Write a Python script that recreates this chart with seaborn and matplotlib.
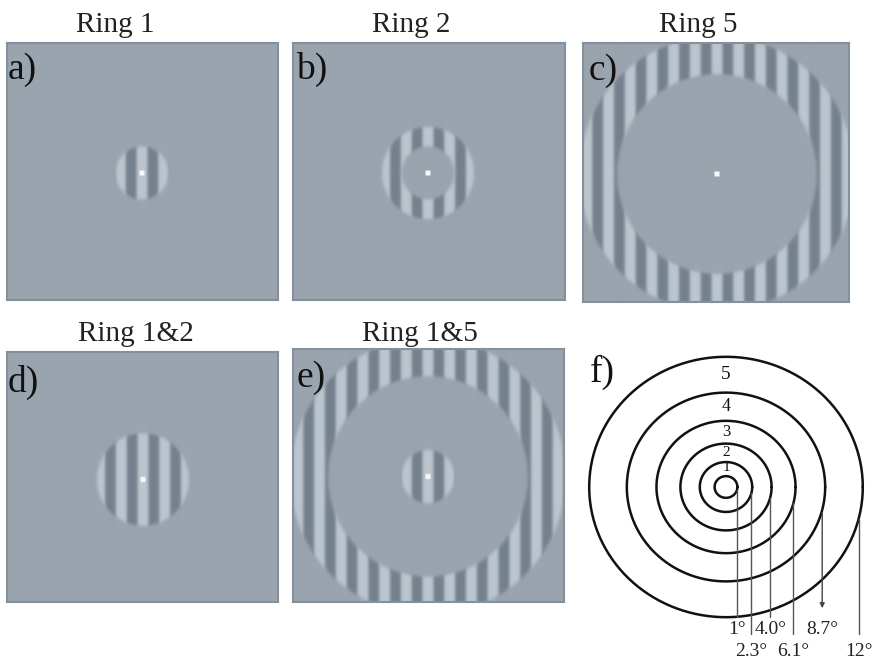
import numpy as np
import pandas as pd
import matplotlib
matplotlib.use("Agg")
import matplotlib.pyplot as plt
import seaborn as sns

# ---------------- data ----------------
ring_edges_deg = [1, 2.3, 4.0, 6.1, 8.7, 12]          # eccentricity boundaries (f)
edge_labels = ["1°", "2.3°", "4.0°", "6.1°", "8.7°", "12°"]
edge_label_row = [0, 1, 0, 1, 0, 1]                    # which text row each label sits in
ring_names = ["1", "2", "3", "4", "5"]
ring_inner_deg = {1: 0.0, 2: 2.3, 5: 8.7}
ring_outer_deg = {1: 2.3, 2: 4.0, 5: 12.0}
panel_letters = ["a)", "b)", "c)", "d)", "e)"]
panel_titles = ["Ring 1", "Ring 2", "Ring 5", "Ring 1&2", "Ring 1&5"]
panel_rings = [[1], [2], [5], [1, 2], [1, 5]]
grating_period_deg = 1.89

# ---------------- style ----------------
sns.set_theme(style="white")
plt.rcParams["font.family"] = ["Liberation Serif", "DejaVu Serif"]

W, H = 873, 670
fig = plt.figure(figsize=(W / 100, H / 100), dpi=100)
fig.patch.set_facecolor("white")

PX_PER_DEG = 11.5
# box extents (x0, x1, y0, y1) and centre in pixels
boxes = [(7, 278, 43, 300, 142, 173),
         (293, 565, 43, 300, 428, 173),
         (583, 849, 43, 302, 717, 174),
         (7, 278, 352, 602, 143, 480),
         (293, 564, 349, 602, 428, 477)]
title_pos = [(115, 32), (411, 32), (698, 32), (136, 341), (420, 341)]
letter_pos = [(8, 79), (296, 79), (589, 80), (8, 392), (297, 387)]

bg = np.array([154, 164, 174]) / 255
light = np.array([188, 198, 207]) / 255
dark = np.array([116, 129, 141]) / 255


def smoothstep(d, w=0.08):
    return 1 / (1 + np.exp(-np.clip(d / w, -60, 60)))


def merged_intervals(rings):
    iv = sorted((ring_inner_deg[r], ring_outer_deg[r]) for r in rings)
    out = [list(iv[0])]
    for a, b in iv[1:]:
        if a <= out[-1][1] + 1e-9:
            out[-1][1] = max(out[-1][1], b)
        else:
            out.append([a, b])
    return out


for i, (x0, x1, y0, y1, cx, cy) in enumerate(boxes):
    ax = fig.add_axes([x0 / W, 1 - y1 / H, (x1 - x0) / W, (y1 - y0) / H])
    xl = ((x0 - cx) / PX_PER_DEG, (x1 - cx) / PX_PER_DEG)
    yl = ((cy - y1) / PX_PER_DEG, (cy - y0) / PX_PER_DEG)
    nx, ny = (x1 - x0) * 2, (y1 - y0) * 2
    xs = np.linspace(xl[0], xl[1], nx)
    ys = np.linspace(yl[1], yl[0], ny)
    X, Y = np.meshgrid(xs, ys)
    R = np.hypot(X, Y)
    g = np.tanh(2.2 * np.cos(2 * np.pi * X / grating_period_deg)) / np.tanh(2.2)
    mask = np.zeros_like(R)
    for a, b in merged_intervals(panel_rings[i]):
        m = smoothstep(b - R)
        if a > 0:
            m = m * smoothstep(R - a)
        mask = np.maximum(mask, m)
    v = g * mask
    img = np.where(v[..., None] > 0,
                   bg + v[..., None] * (light - bg),
                   bg + (-v[..., None]) * (dark - bg))
    fix = (np.abs(X) < 0.22) & (np.abs(Y) < 0.22)
    img[fix] = [0.97, 0.97, 0.97]
    ax.imshow(img, extent=(xl[0], xl[1], yl[0], yl[1]), origin="upper",
              interpolation="bilinear", aspect="auto")
    ax.set_xlim(*xl)
    ax.set_ylim(*yl)
    ax.set_xticks([])
    ax.set_yticks([])
    for s in ax.spines.values():
        s.set_visible(True)
        s.set_color("#84909b")
        s.set_linewidth(1.5)
    tx, ty = title_pos[i]
    fig.text(tx / W, 1 - ty / H, panel_titles[i], ha="center", va="baseline",
             fontsize=21, color="#222222")
    lx, ly = letter_pos[i]
    fig.text(lx / W, 1 - ly / H, panel_letters[i], ha="left", va="baseline",
             fontsize=27, color="#111111")

# ---------------- panel f ----------------
fcx, fcy = 726, 487
sx, sy = 11.4, 10.85
fx0, fx1, fy0, fy1 = 580, 873, 330, 670
axf = fig.add_axes([fx0 / W, 1 - fy1 / H, (fx1 - fx0) / W, (fy1 - fy0) / H])
axf.set_xlim((fx0 - fcx) / sx, (fx1 - fcx) / sx)
axf.set_ylim((fcy - fy1) / sy, (fcy - fy0) / sy)
axf.axis("off")

theta = np.linspace(0, 2 * np.pi, 400)
rows = []
for r in ring_edges_deg:
    for t in theta:
        rows.append({"edge": str(r), "x": r * np.cos(t), "y": r * np.sin(t)})
circ = pd.DataFrame(rows)
sns.lineplot(data=circ, x="x", y="y", hue="edge", sort=False, estimator=None,
             palette=["#111111"] * len(ring_edges_deg), linewidth=1.8,
             legend=False, ax=axf)

row_y = [(fcy - 630) / sy, (fcy - 652) / sy]
row_end = [(fcy - 617) / sy, (fcy - 634) / sy]
for r, lab, rw in zip(ring_edges_deg, edge_labels, edge_label_row):
    xline = r * 0.97
    ystart = -r * np.sqrt(1 - 0.97 ** 2)
    yend = row_end[rw]
    if lab == "8.7°":
        yend = (fcy - 611) / sy
        axf.annotate("", xy=(xline, yend), xytext=(xline, ystart),
                     arrowprops=dict(arrowstyle="-|>", color="#444444", lw=1.0,
                                     mutation_scale=7))
    else:
        axf.plot([xline, xline], [ystart, yend], color="#555555", lw=1.0)
    axf.text(xline, row_y[rw], lab, ha="center", va="center", fontsize=14,
             color="#222222", clip_on=False)

# ring numbers sit midway between consecutive boundaries (top of circles)
bounds = [0] + ring_edges_deg
ring_label_size = [11, 11, 12, 13, 14]
for k, name in enumerate(ring_names):
    yy = 0.5 * (bounds[k + 1] + bounds[k + 2]) + (0.15 if k == 0 else 0.0)
    axf.text(0, yy, name, ha="center", va="center",
             fontsize=ring_label_size[k], color="#111111")

fig.text(590 / W, 1 - 382 / H, "f)", ha="left", va="baseline", fontsize=27,
         color="#111111")

fig.savefig("out.png", dpi=100, facecolor="white")
